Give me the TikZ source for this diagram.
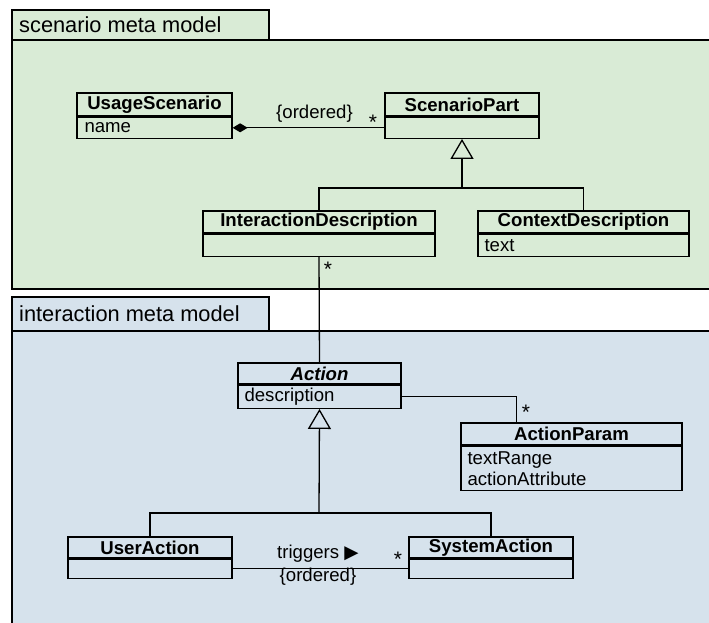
\documentclass[tikz,border=0pt]{standalone}
\usepackage{fontspec}
\setmainfont{Liberation Sans}
\newfontfamily\symfont{DejaVu Sans}
\usetikzlibrary{arrows.meta}

\definecolor{scengreen}{RGB}{217,235,214}
\definecolor{interblue}{RGB}{214,226,236}

% multiplicity star, boxed tightly around the visible glyph
\newcommand{\multstar}{\raisebox{-9pt}[6pt][0pt]{*}}

\tikzset{
  pkg/.style={draw=black, line width=1.3pt},
  pkgtitle/.style={anchor=west, inner sep=0pt, font=\fontsize{21.8}{22}\selectfont},
  chead/.style={draw=black, line width=1.3pt, inner sep=0pt,
    font=\fontsize{18.6}{19}\selectfont\bfseries},
  cbody/.style={draw=black, line width=1.3pt, inner sep=0pt, anchor=north},
  attr/.style={anchor=west, inner sep=0pt, font=\fontsize{18.6}{21}\selectfont, align=left},
  conn/.style={draw=black, line width=1.3pt},
  lbl/.style={inner sep=0pt, font=\fontsize{18.6}{19}\selectfont},
  mult/.style={inner sep=0pt, font=\fontsize{21}{21}\selectfont},
  gen/.style={conn, -{Triangle[open, length=20pt, width=23pt, line width=1.3pt]}},
  comp/.style={conn, {Diamond[length=15pt, width=9pt]}-},
}

\begin{document}
\begin{tikzpicture}[x=1pt, y=-1pt]
\useasboundingbox (0,0) rectangle (709,622);
\clip (0,0) rectangle (709,622);
\fill[white] (0,0) rectangle (709,622);

% ---- scenario meta model package ----
\filldraw[pkg, fill=scengreen] (12,40) rectangle (730,289);
\filldraw[pkg, fill=scengreen] (12,10) rectangle (269,40);
\node[pkgtitle] (scentitle) at (19,25) {scenario meta model};

% ---- interaction meta model package ----
\filldraw[pkg, fill=interblue] (12,331) rectangle (730,640);
\filldraw[pkg, fill=interblue] (12,297) rectangle (269,331);
\node[pkgtitle] (intertitle) at (19,314) {interaction meta model};

% ---- classes ----
% UsageScenario
\node[chead, minimum width=155pt, minimum height=23pt] (us) at (154.5,104.5) {UsageScenario};
\node[cbody, minimum width=155pt, minimum height=21pt] (usb) at (us.south) {};
\node[attr] (usattr) at ([xshift=8pt]usb.west) {name};

% ScenarioPart
\node[chead, minimum width=154pt, minimum height=23pt] (sp) at (462,104.5) {ScenarioPart};
\node[cbody, minimum width=154pt, minimum height=21pt] (spb) at (sp.south) {};

% InteractionDescription
\node[chead, minimum width=232pt, minimum height=22pt] (id) at (319,222) {InteractionDescription};
\node[cbody, minimum width=232pt, minimum height=22pt] (idb) at (id.south) {};

% ContextDescription
\node[chead, minimum width=211pt, minimum height=22pt] (cd) at (583.5,222) {ContextDescription};
\node[cbody, minimum width=211pt, minimum height=22pt] (cdb) at (cd.south) {};
\node[attr] (cdattr) at ([xshift=7pt]cdb.west) {text};

% Action (abstract)
\node[chead, minimum width=163pt, minimum height=21pt] (act) at (319.5,373.5) {\itshape Action};
\node[cbody, minimum width=163pt, minimum height=23pt] (actb) at (act.south) {};
\node[attr] (actattr) at ([xshift=7pt]actb.west) {description};

% ActionParam
\node[chead, minimum width=221pt, minimum height=22pt] (ap) at (571.5,434) {ActionParam};
\node[cbody, minimum width=221pt, minimum height=44pt] (apb) at (ap.south) {};
\node[attr] (apattr) at ([xshift=7pt]apb.west) {textRange\\actionAttribute};

% UserAction
\node[chead, minimum width=164pt, minimum height=21pt] (ua) at (150,547.5) {UserAction};
\node[cbody, minimum width=164pt, minimum height=19pt] (uab) at (ua.south) {};

% SystemAction
\node[chead, minimum width=164pt, minimum height=21pt] (sa) at (491,547.5) {SystemAction};
\node[cbody, minimum width=164pt, minimum height=19pt] (sab) at (sa.south) {};

% ---- connectors ----
% composition UsageScenario <>-- ScenarioPart
\draw[comp] (usb.east) -- (spb.west);
\node[lbl] (ord1) at (314.5,114) {\{ordered\}};
\node[mult] (star1) at (373,117) {\multstar};

% generalization of ScenarioPart
\coordinate (g1) at (462,188);
\draw[conn] (id.north) |- (g1) -| (cd.north);
\draw[gen] (g1) -- (spb.south);

% InteractionDescription -- Action
\draw[conn] (idb.south) -- (act.north);
\node[mult] (star2) at (328,264.5) {\multstar};

% Action -- ActionParam
\coordinate (apin) at ([xshift=56pt]ap.north west);
\draw[conn] (actb.east) -| (apin);
\node[mult] (star3) at (526,407.5) {\multstar};

% generalization of Action
\coordinate (g2) at (319,513);
\draw[conn] (ua.north) |- (g2) -| (sa.north);
\draw[gen] (g2) -- (actb.south);

% UserAction -- SystemAction
\draw[conn] (uab.east) -- (sab.west);
\node[lbl, anchor=west] (trig) at (277,554) {triggers {\symfont\fontsize{18.5}{18.5}\selectfont ▶}};
\node[lbl] (ord2) at (318,577) {\{ordered\}};
\node[mult] (star4) at (398,554) {\multstar};

\end{tikzpicture}
\end{document}
